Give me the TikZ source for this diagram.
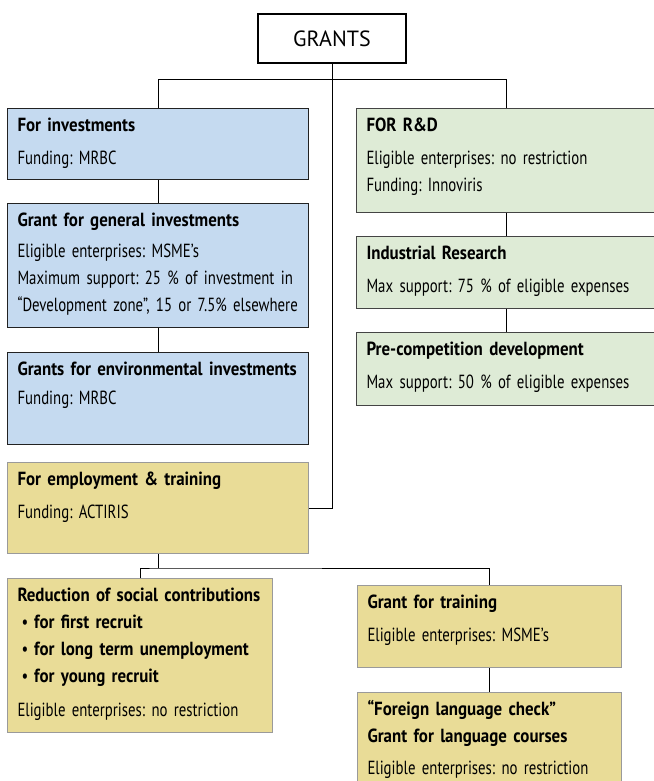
\documentclass[tikz,border=0pt]{standalone}
\usepackage{fontspec}
\setmainfont{PT Sans}[FakeStretch=0.78,BoldFeatures={FakeStretch=0.89}]
\newfontfamily\rootfont{PT Sans}
\usepackage{tikz}
\usetikzlibrary{positioning}
\frenchspacing
\hyphenpenalty=10000
\definecolor{investblue}{HTML}{C5DAF0}
\definecolor{investline}{HTML}{222222}
\definecolor{researchgreen}{HTML}{DEEBD6}
\definecolor{researchline}{HTML}{444444}
\definecolor{employyellow}{HTML}{E9DC97}
\definecolor{employline}{HTML}{9A9A9A}
\tikzset{root/.style={
        draw,
        rectangle,
        line width=2.2pt,
        minimum width=148pt,
        minimum height=49pt,
        font=\rootfont\fontsize{22}{26}\selectfont
}}
\tikzset{invest/.style={
        draw=investline,
        fill=investblue,
        line width=1pt,
        anchor=north west,
        inner xsep=10pt,
        inner ysep=0pt,
        text width=281pt,
        text height=23pt,
        align=left
}}
\tikzset{research/.style={
        draw=researchline,
        fill=researchgreen,
        line width=1pt,
        anchor=north west,
        inner xsep=10pt,
        inner ysep=0pt,
        text width=280pt,
        text height=23pt,
        align=left
}}
\tikzset{employ/.style={
        draw=employline,
        fill=employyellow,
        line width=1pt,
        anchor=north west,
        inner xsep=10pt,
        inner ysep=0pt,
        text height=23pt,
        align=left
}}
\tikzset{treeedge/.style={draw,line width=0.9pt}}

\begin{document}
\begin{tikzpicture}[x=1pt,y=-1pt,every node/.style={font=\fontsize{19}{27}\selectfont}]
\useasboundingbox (0,0) rectangle (653,781);

\node[root] (grants) at (332,38.5) {GRANTS};

\node[invest, text depth=48pt] (inv) at (7,108)
  {\textbf{For investments}\\[6pt] Funding: MRBC};
\node[invest, text depth=101pt] (gen) at (7,203)
  {\textbf{Grant for general investments}\\[4pt]
   Eligible enterprises: MSME’s\\
   Maximum support: 25 \% of investment in\\
   “Development zone”, 15 or 7.5\% elsewhere};
\node[invest, text depth=69pt] (env) at (7,352)
  {\textbf{Grants for environmental investments}\\[2pt] Funding: MRBC};

\node[employ, text width=281pt, text depth=68pt] (emp) at (7,462)
  {\textbf{For employment \& training}\\[6pt] Funding: ACTIRIS};
\node[employ, text width=245pt, text depth=131pt] (red) at (7,578)
  {\textbf{Reduction of social contributions}\\
   \hspace*{4pt}\textbullet\hspace{6pt}\textbf{for first recruit}\\
   \hspace*{4pt}\textbullet\hspace{6pt}\textbf{for long term unemployment}\\
   \hspace*{4pt}\textbullet\hspace{6pt}\textbf{for young recruit}\\[7pt]
   Eligible enterprises: no restriction};
\node[employ, text width=244pt, text depth=59pt] (trn) at (357,585)
  {\textbf{Grant for training}\\[6pt] Eligible enterprises: MSME’s};
\node[employ, text width=244pt, text depth=90pt] (flc) at (357,692)
  {\textbf{“Foreign language check”}\\
   \textbf{Grant for language courses}\\[5pt]
   Eligible enterprises: no restriction};

\node[research, text depth=81pt] (rd) at (356,108)
  {\textbf{FOR R\&D}\\[6pt]
   Eligible enterprises: no restriction\\
   Funding: Innoviris};
\node[research, text depth=49pt] (ind) at (356,236)
  {\textbf{Industrial Research}\\[6pt] Max support: 75 \% of eligible expenses};
\node[research, text depth=50pt] (pre) at (356,332)
  {\textbf{Pre-competition development}\\[6pt] Max support: 50 \% of eligible expenses};

\draw[treeedge] (grants.south) -- ++(0,15) coordinate (top split);
\draw[treeedge] (inv.north) |- (top split) -| (rd.north);
\draw[treeedge] (top split) |- (emp.east);
\draw[treeedge] (inv) -- (gen);
\draw[treeedge] (gen) -- (env);
\draw[treeedge] (rd) -- (ind);
\draw[treeedge] (ind) -- (pre);
\draw[treeedge] (emp.south) -- ++(0,14) coordinate (emp split);
\draw[treeedge] (red.north) |- (emp split) -| (trn.north);
\draw[treeedge] (trn) -- (flc);
\end{tikzpicture}
\end{document}
